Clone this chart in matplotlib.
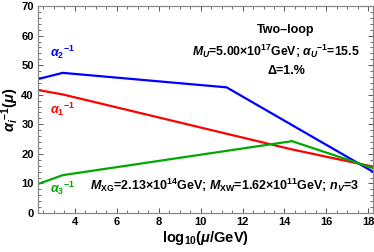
import matplotlib
matplotlib.use("Agg")
import matplotlib.pyplot as plt
from matplotlib.ticker import MultipleLocator

plt.rcParams['font.family'] = ['Liberation Sans', 'DejaVu Sans']
plt.rcParams['font.weight'] = 'bold'
plt.rcParams['mathtext.fontset'] = 'custom'
plt.rcParams['mathtext.rm'] = 'Liberation Sans:bold'
plt.rcParams['mathtext.it'] = 'Liberation Sans:italic:bold'
plt.rcParams['mathtext.bf'] = 'Liberation Sans:bold'

# data (x = log10(mu/GeV))
x_a1 = [2.24, 3.42, 14.36, 18.21]
y_a1 = [41.6, 40.1, 21.5, 15.7]
x_a2 = [2.24, 3.42, 11.24, 18.21]
y_a2 = [45.3, 47.4, 42.5, 14.0]
x_a3 = [2.24, 3.42, 14.36, 18.21]
y_a3 = [9.8, 12.8, 24.3, 15.2]

xlim = (2.24, 18.21)
ylim = (0, 70)
xticks = [4, 6, 8, 10, 12, 14, 16, 18]
yticks = [0, 10, 20, 30, 40, 50, 60, 70]

c_red = '#ff0000'
c_blue = '#0000ff'
c_green = '#00a800'

fig = plt.figure(figsize=(3.74, 2.52), dpi=100)
ax = fig.add_axes([0.1016, 0.1548, 0.8949, 0.8212])

ax.plot(x_a1, y_a1, color=c_red, lw=1.6)
ax.plot(x_a2, y_a2, color=c_blue, lw=1.6)
ax.plot(x_a3, y_a3, color=c_green, lw=1.6)

ax.set_xlim(*xlim)
ax.set_ylim(*ylim)
ax.set_xticks(xticks)
ax.set_yticks(yticks)
ax.xaxis.set_minor_locator(MultipleLocator(0.5))
ax.yaxis.set_minor_locator(MultipleLocator(2))
ax.tick_params(which='both', direction='in', top=True, right=True,
               color='#555555', labelsize=8, pad=3)
ax.tick_params(which='major', length=3.5, width=0.7)
ax.tick_params(which='minor', length=2, width=0.6)
for lab in ax.get_xticklabels() + ax.get_yticklabels():
    lab.set_fontweight('bold')
for s in ax.spines.values():
    s.set_color('#888888')
    s.set_linewidth(0.9)

ax.set_xlabel(r'$\mathrm{log_{10}(}\mu\mathrm{/GeV)}$', fontsize=10.5, labelpad=1)
ax.set_ylabel(r'$\alpha_i{}^{\mathrm{-1}}\mathrm{(}\mu\mathrm{)}$', fontsize=10.5, labelpad=0)

ax.text(3.42, 54.5, r'$\alpha_{\mathrm{2}}{}^{\mathrm{-1}}$', color=c_blue, fontsize=9, ha='center', va='center')
ax.text(3.42, 35.0, r'$\alpha_{\mathrm{1}}{}^{\mathrm{-1}}$', color=c_red, fontsize=9, ha='center', va='center')
ax.text(3.42, 8.4, r'$\alpha_{\mathrm{3}}{}^{\mathrm{-1}}$', color=c_green, fontsize=9, ha='center', va='center')

ax.text(14.07, 61.8, 'Two\u2013loop', fontsize=9, ha='center', va='center', fontweight='bold')
ax.text(13.6, 54.6, r'$M_U$=5.00×10$^{\mathrm{17}}$GeV; $\alpha_U{}^{\mathrm{-1}}$=15.5',
        fontsize=8.8, ha='center', va='center', fontweight='bold')
ax.text(14.1, 48.0, 'Δ=1.%', fontsize=9, ha='center', va='center', fontweight='bold')
ax.text(11.15, 9.2, r'$M_{\mathrm{XG}}$=2.13×10$^{\mathrm{14}}$GeV; $M_{\mathrm{XW}}$=1.62×10$^{\mathrm{11}}$GeV; $n_V$=3',
        fontsize=9, ha='center', va='center', fontweight='bold')

fig.savefig('out.png', dpi=100)
